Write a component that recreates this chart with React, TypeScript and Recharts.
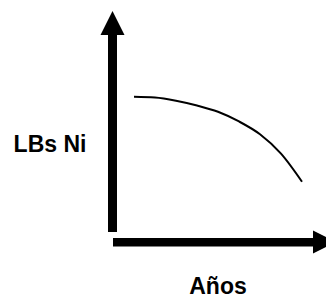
import { LineChart, Line, XAxis, YAxis, Customized } from 'recharts'

// years after start, and the pounds of Ni left
const years = [0, 1, 2, 3, 4, 5, 6, 7, 8]
const lbsNi = [6.0, 5.97, 5.84, 5.64, 5.38, 4.98, 4.45, 3.65, 2.49]
const yLabel = 'LBs Ni'
const xLabel = 'Años'

const data = years.map((y, i) => ({ year: y, lbs: lbsNi[i] }))

const W = 326
const H = 300
const margin = { top: 0, right: 3, bottom: 58, left: 113 }

// hand-drawn looking axis arrows plus the two titles
function Arrows() {
  const ax = 112.5
  const ay = 242
  return (
    <g>
      <rect x={ax - 4.5} y={34} width={9} height={232 - 34} fill="#000" />
      <polygon points={`${ax},11 ${ax - 12},35 ${ax + 12},35`} fill="#000" />
      <rect x={113} y={ay - 4} width={314 - 113} height={8.5} fill="#000" />
      <polygon points={`313,${ay - 11.5} 336,${ay} 313,${ay + 11.5}`} fill="#000" />
      <text
        x={50}
        y={152}
        textAnchor="middle"
        fontFamily="'Liberation Sans', Arial, sans-serif"
        fontWeight="bold"
        fontSize={23}
        fill="#000"
      >
        {yLabel}
      </text>
      <text
        x={218}
        y={294}
        textAnchor="middle"
        fontFamily="'Liberation Sans', Arial, sans-serif"
        fontWeight="bold"
        fontSize={23}
        fill="#000"
      >
        {xLabel}
      </text>
    </g>
  )
}

export default function App() {
  return (
    <div style={{ position: 'absolute', left: 0, top: 0, width: W, height: H, background: '#fff' }}>
      <LineChart width={W} height={H} data={data} margin={margin}>
        <XAxis dataKey="year" type="number" domain={[-1, 9]} hide />
        <YAxis type="number" domain={[0, 10]} hide />
        <Customized component={Arrows} />
        <Line
          type="monotone"
          dataKey="lbs"
          stroke="#000"
          strokeWidth={2}
          dot={false}
          isAnimationActive={false}
        />
      </LineChart>
    </div>
  )
}
